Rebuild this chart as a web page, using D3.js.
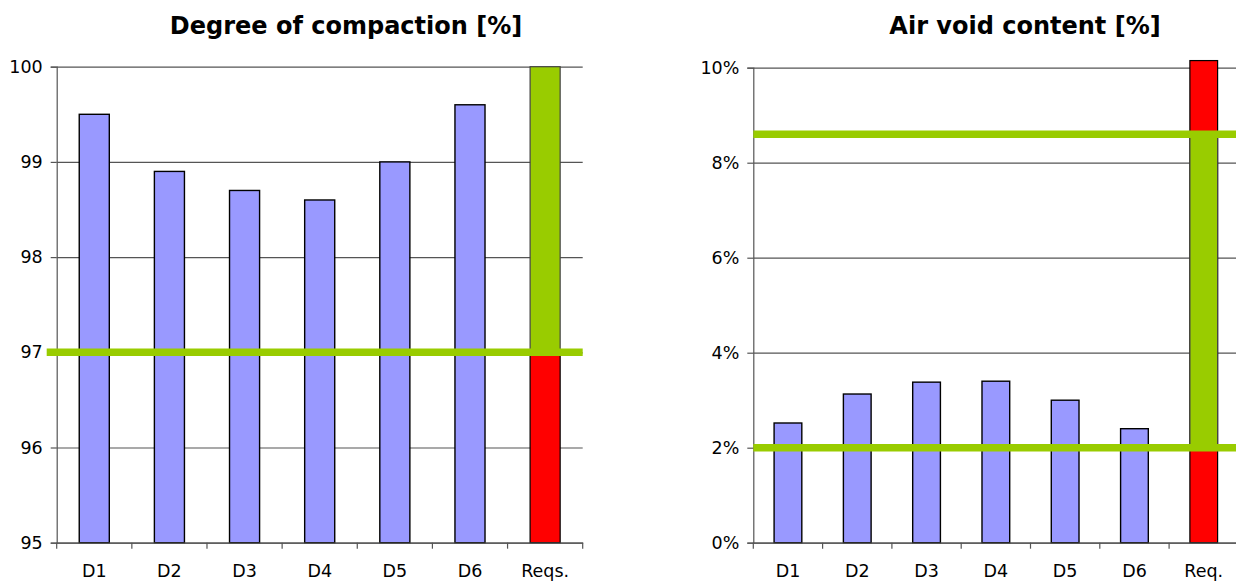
<!DOCTYPE html>
<html>
<head>
<meta charset="utf-8">
<script src="https://cdn.jsdelivr.net/npm/d3@7"></script>
<style>
  html, body { margin: 0; padding: 0; background: #fff; }
  svg { display: block; }
  text { font-family: "DejaVu Sans", Verdana, sans-serif; fill: #000; }
</style>
</head>
<body>
<svg id="chart" width="1236" height="583"></svg>
<script>
// ---------- data ----------
const compactionCategories = ["D1", "D2", "D3", "D4", "D5", "D6", "Reqs."];
const compactionValues = [99.5, 98.9, 98.7, 98.6, 99.0, 99.6];
const compactionReqLimit = 97;      // minimum required (red below, green above)
const compactionReqTop = 100;
const compactionTicks = [95, 96, 97, 98, 99, 100];

const airVoidCategories = ["D1", "D2", "D3", "D4", "D5", "D6", "Req."];
const airVoidValues = [2.52, 3.13, 3.38, 3.40, 3.00, 2.40];
const airVoidReqRange = [2.0, 8.6];  // allowed range (green)
const airVoidReqBar = 10.15;         // red bar height
const airVoidTicks = [0, 2, 4, 6, 8, 10];

// ---------- styles ----------
const BAR_FILL = "#9999ff";
const RED = "#ff0000";
const GREEN = "#99cc00";
const GRID = "#555";

const svg = d3.select("#chart");

function drawPanel(opts) {
  const g = svg.append("g");
  const x = d3.scaleBand()
    .domain(opts.categories)
    .range([opts.x0, opts.x1])
    .paddingInner(0.6)
    .paddingOuter(0.3);
  const y = d3.scaleLinear().domain(opts.domain).range([opts.y0, opts.y1]);
  const step = x.step();

  // gridlines
  g.append("g")
    .attr("transform", `translate(${opts.x0},0)`)
    .call(d3.axisLeft(y).tickValues(opts.ticks).tickSize(-(opts.gridEnd - opts.x0)).tickFormat(""))
    .call(s => s.select(".domain").remove())
    .call(s => s.selectAll("line").attr("stroke", GRID).attr("stroke-width", 1.2));

  // data bars
  const dataCats = opts.categories.slice(0, opts.values.length);
  g.selectAll("rect.bar").data(opts.values).join("rect")
    .attr("class", "bar")
    .attr("x", (d, i) => x(dataCats[i]))
    .attr("width", x.bandwidth())
    .attr("y", d => y(d))
    .attr("height", d => y(opts.domain[0]) - y(d))
    .attr("fill", BAR_FILL)
    .attr("stroke", "#000")
    .attr("stroke-width", 1.4);

  // requirement bars
  const reqCat = opts.categories[opts.categories.length - 1];
  opts.reqBars.forEach(b => {
    g.append("rect")
      .attr("x", x(reqCat))
      .attr("width", x.bandwidth())
      .attr("y", y(b.to))
      .attr("height", y(b.from) - y(b.to))
      .attr("fill", b.color)
      .attr("stroke", b.stroke)
      .attr("stroke-width", 1.2);
  });

  // y axis
  const yAxis = g.append("g")
    .attr("transform", `translate(${opts.x0},0)`)
    .call(d3.axisLeft(y).tickValues(opts.ticks).tickSize(6).tickPadding(8).tickFormat(opts.fmt));
  yAxis.select(".domain").attr("stroke", GRID).attr("stroke-width", 1.2);
  yAxis.selectAll("line").attr("stroke", GRID).attr("stroke-width", 1.2);
  yAxis.selectAll("text")
    .style("font-family", '"DejaVu Sans", Verdana, sans-serif')
    .style("font-size", "17.5px")
    .attr("fill", "#000");

  // x axis line + labels
  const xAxis = g.append("g")
    .attr("transform", `translate(0,${opts.y0})`)
    .call(d3.axisBottom(x).tickSize(0).tickPadding(22));
  xAxis.select(".domain").attr("stroke", GRID).attr("stroke-width", 1.2);
  xAxis.selectAll("text")
    .style("font-family", '"DejaVu Sans", Verdana, sans-serif')
    .style("font-size", "17.5px")
    .attr("fill", "#000");

  // x tick marks at band boundaries
  const boundaries = opts.categories.map(c => x(c) - step * x.paddingOuter());
  boundaries.push(x(reqCat) - step * x.paddingOuter() + step);
  g.selectAll("line.xtick").data(boundaries).join("line")
    .attr("class", "xtick")
    .attr("x1", d => d).attr("x2", d => d)
    .attr("y1", opts.y0).attr("y2", opts.y0 + 6)
    .attr("stroke", GRID).attr("stroke-width", 1.2);

  // requirement lines
  opts.reqLines.forEach(v => {
    g.append("line")
      .attr("x1", opts.lineStart).attr("x2", opts.gridEnd)
      .attr("y1", y(v)).attr("y2", y(v))
      .attr("stroke", GREEN).attr("stroke-width", 7.5);
  });

  // title
  g.append("text")
    .attr("x", opts.titleX).attr("y", 34)
    .attr("text-anchor", "middle")
    .style("font-size", "24px")
    .style("font-weight", "bold")
    .text(opts.title);
}

drawPanel({
  title: "Degree of compaction [%]",
  titleX: 346,
  categories: compactionCategories,
  values: compactionValues,
  domain: [95, 100],
  ticks: compactionTicks,
  fmt: d => d,
  x0: 56.7, x1: 582.7, gridEnd: 582.7, lineStart: 46.7,
  y0: 542.7, y1: 66.7,
  reqBars: [
    { from: 95, to: compactionReqLimit, color: RED, stroke: "#000" },
    { from: compactionReqLimit, to: compactionReqTop, color: GREEN, stroke: "#444" }
  ],
  reqLines: [compactionReqLimit]
});

drawPanel({
  title: "Air void content [%]",
  titleX: 1025,
  categories: airVoidCategories,
  values: airVoidValues,
  domain: [0, 10],
  ticks: airVoidTicks,
  fmt: d => d + "%",
  x0: 753.3, x1: 1238.4, gridEnd: 1240, lineStart: 753.3,
  y0: 542.7, y1: 67.7,
  reqBars: [
    { from: 0, to: airVoidReqBar, color: RED, stroke: "#000" },
    { from: airVoidReqRange[0], to: airVoidReqRange[1], color: GREEN, stroke: "#444" }
  ],
  reqLines: airVoidReqRange
});
</script>
</body>
</html>
